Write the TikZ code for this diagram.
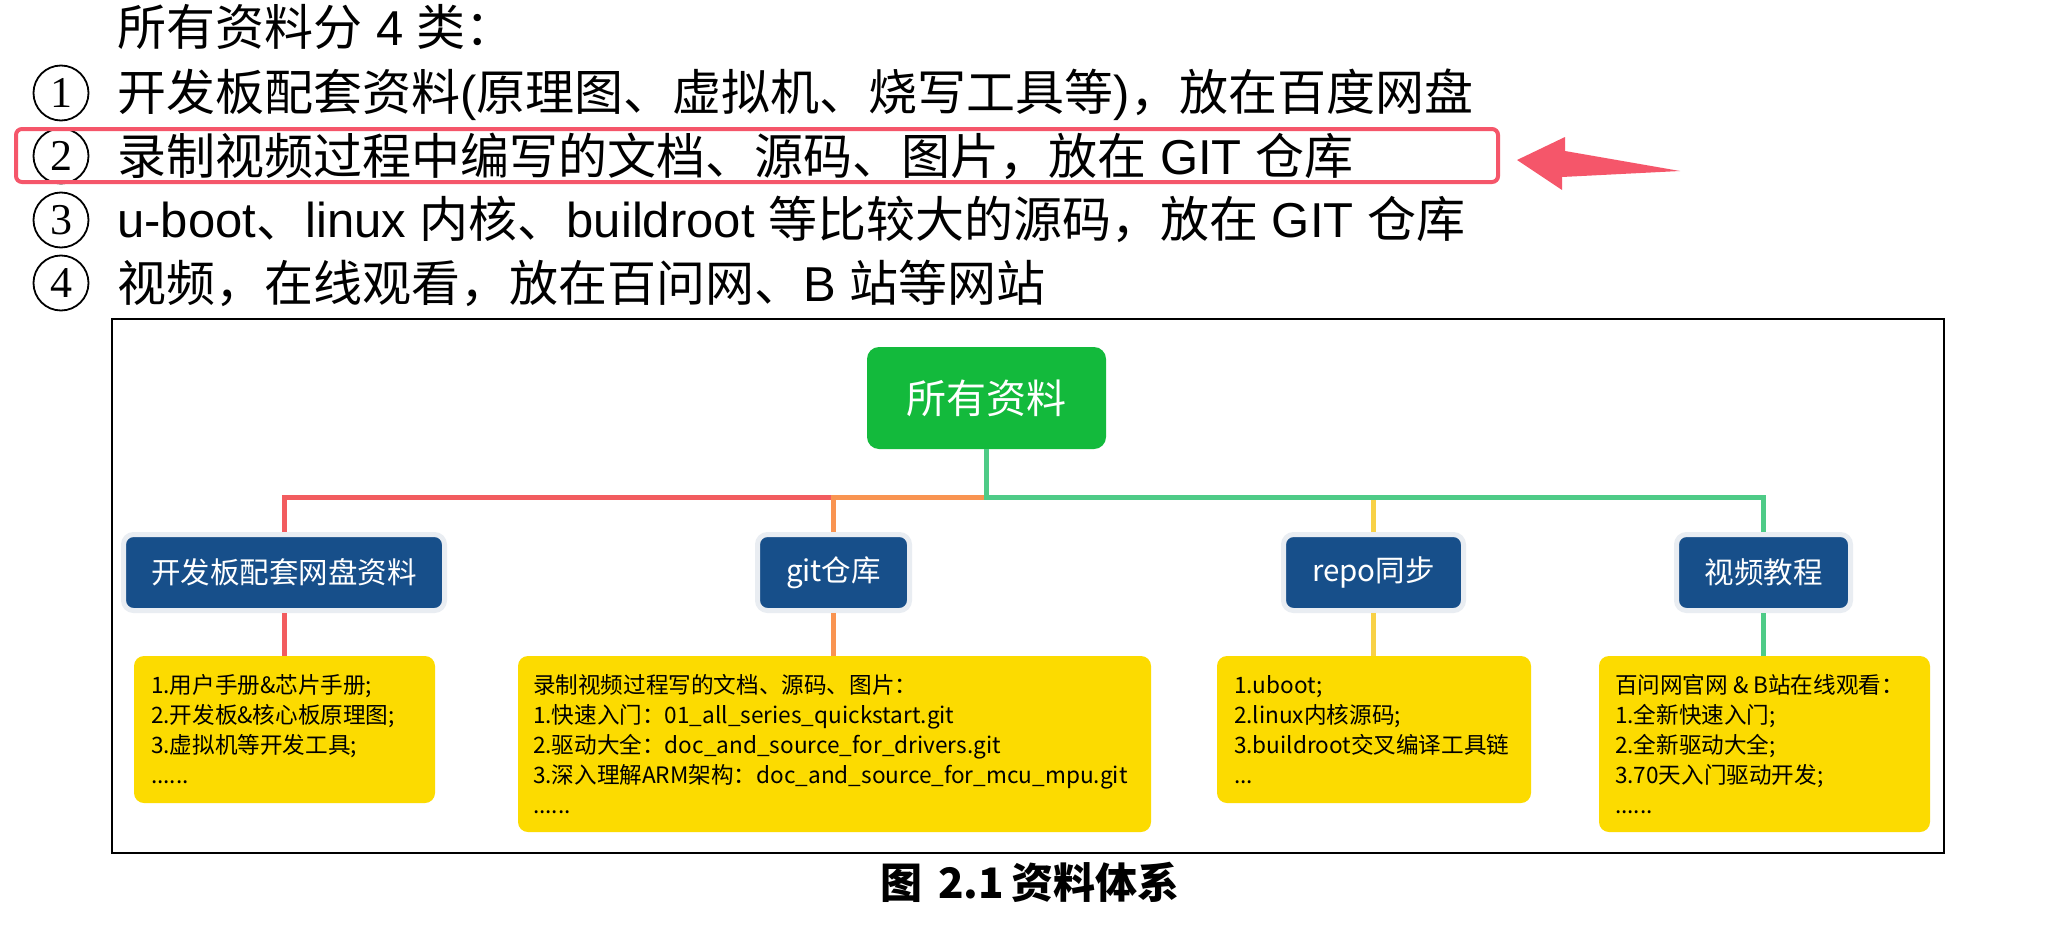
\documentclass[tikz,border=0pt]{standalone}
\usepackage{fontspec}
\setmainfont{Liberation Sans}
\newfontfamily\cjk{Noto Sans CJK SC}
\newfontfamily\numserif{Liberation Serif}
\definecolor{rline}{HTML}{F25C5F}
\definecolor{oline}{HTML}{F99451}
\definecolor{gline}{HTML}{4ECB87}
\definecolor{yline}{HTML}{F8D146}
\definecolor{rootgreen}{HTML}{13BA3C}
\definecolor{nodeblue}{HTML}{174F8A}
\definecolor{glow}{HTML}{E9EDF2}
\definecolor{boxyellow}{HTML}{FCDB00}
\definecolor{hired}{HTML}{F5566A}
\tikzset{
  topline/.style={anchor=base west, inner sep=0pt, font=\fontsize{24.5pt}{28pt}\selectfont},
  numcircle/.style={circle, draw=black, line width=0.9pt, minimum size=27.5pt, inner sep=0pt, font=\numserif\fontsize{22pt}{24pt}\selectfont},
  rootbox/.style={fill=rootgreen, rounded corners=6pt, minimum width=119.5pt, minimum height=51pt, inner sep=0pt, text=white, font=\cjk\fontsize{20pt}{24pt}\selectfont},
  bluebox/.style={fill=nodeblue, draw=glow, line width=2.5pt, rounded corners=5pt, minimum height=38pt, inner sep=0pt, text=white, font=\cjk\fontsize{14.75pt}{18pt}\selectfont},
  ybox/.style={fill=boxyellow, rounded corners=5pt, inner sep=0pt},
  ytext/.style={anchor=west, align=left, inner sep=0pt, text=black, font=\cjk\fontsize{11.3pt}{15pt}\selectfont},
  conn/.style={line width=2.5pt},
}
\begin{document}
\begin{tikzpicture}[x=0.5pt,y=-0.5pt]
\useasboundingbox[fill=white] (0,0) rectangle (2067,942);

% top text
\node[topline] (l0) at (117,45) {{\cjk 所有资料分} 4 {\cjk 类：}};
\node[numcircle] (c1) at (61,93) {1};
\node[numcircle] (c2) at (61,156) {2};
\node[numcircle] (c3) at (61,220) {3};
\node[numcircle] (c4) at (61,283) {4};
\node[topline] (l1) at (117,110) {{\cjk 开发板配套资料}({\cjk 原理图、虚拟机、烧写工具等}){\cjk ，放在百度网盘}};
\node[topline] (l2) at (117,174) {{\cjk 录制视频过程中编写的文档、源码、图片，放在} GIT {\cjk 仓库}};
\node[topline] (l3) at (117,237) {u-boot{\cjk 、}linux {\cjk 内核、}buildroot {\cjk 等比较大的源码，放在} GIT {\cjk 仓库}};
\node[topline] (l4) at (117,301) {{\cjk 视频，在线观看，放在百问网、}B {\cjk 站等网站}};

% highlight
\draw[hired, line width=2pt, rounded corners=3pt] (16,129) rectangle (1498,182);
\fill[hired] (1517,160) -- (1565,137) -- (1565,151) -- (1680,171) -- (1562,177) -- (1562,190) -- cycle;

% frame
\draw[black, line width=1.2pt] (112,319) rectangle (1944,853);

% nodes
\node[rootbox] (root) at (986.5,398) {所有资料};
\node[bluebox, minimum width=160.5pt] (n1) at (284,572.5) {开发板配套网盘资料};
\node[bluebox, minimum width=76pt] (n2) at (833.5,572.5) {git仓库};
\node[bluebox, minimum width=90pt] (n3) at (1373.5,572.5) {repo同步};
\node[bluebox, minimum width=87pt] (n4) at (1763.5,572.5) {视频教程};

\node[ybox, minimum width=150.5pt, minimum height=73.5pt] (b1) at (284.5,729.5) {};
\node[ybox, minimum width=316.5pt, minimum height=88pt] (b2) at (834.5,744) {};
\node[ybox, minimum width=157pt, minimum height=73.5pt] (b3) at (1374,729.5) {};
\node[ybox, minimum width=165.5pt, minimum height=88pt] (b4) at (1764.5,744) {};

\node[ytext] (t1) at ([xshift=8.5pt]b1.west) {1.用户手册\&芯片手册;\\2.开发板\&核心板原理图;\\3.虚拟机等开发工具;\\......};
\node[ytext] (t2) at ([xshift=7.5pt]b2.west) {录制视频过程写的文档、源码、图片：\\1.快速入门：01\_all\_series\_quickstart.git\\2.驱动大全：doc\_and\_source\_for\_drivers.git\\3.深入理解ARM架构：doc\_and\_source\_for\_mcu\_mpu.git\\......};
\node[ytext] (t3) at ([xshift=8.5pt]b3.west) {1.uboot;\\2.linux内核源码;\\3.buildroot交叉编译工具链\\...};
\node[ytext] (t4) at ([xshift=8pt]b4.west) {百问网官网 \& B站在线观看：\\1.全新快速入门;\\2.全新驱动大全;\\3.70天入门驱动开发;\\......};

% connectors
\coordinate (bus) at (986.5,497);
\draw[conn, rline] (bus -| n2.north) -| (n1.north);
\draw[conn, oline] (bus) -| (n2.north);
\draw[conn, yline] (bus -| n3.north) -- (n3.north);
\draw[conn, gline] (root.south) -- (bus) -| (n4.north);
\draw[conn, rline] (n1.south) -- (b1.north -| n1.south);
\draw[conn, oline] (n2.south) -- (b2.north -| n2.south);
\draw[conn, yline] (n3.south) -- (b3.north -| n3.south);
\draw[conn, gline] (n4.south) -- (b4.north -| n4.south);

% caption
\node[inner sep=0pt, font=\cjk\bfseries\fontsize{21pt}{24pt}\selectfont] (cap) at (1030,882) {图\hspace{8pt}2.1\hspace{4pt}资料体系};
\end{tikzpicture}
\end{document}
